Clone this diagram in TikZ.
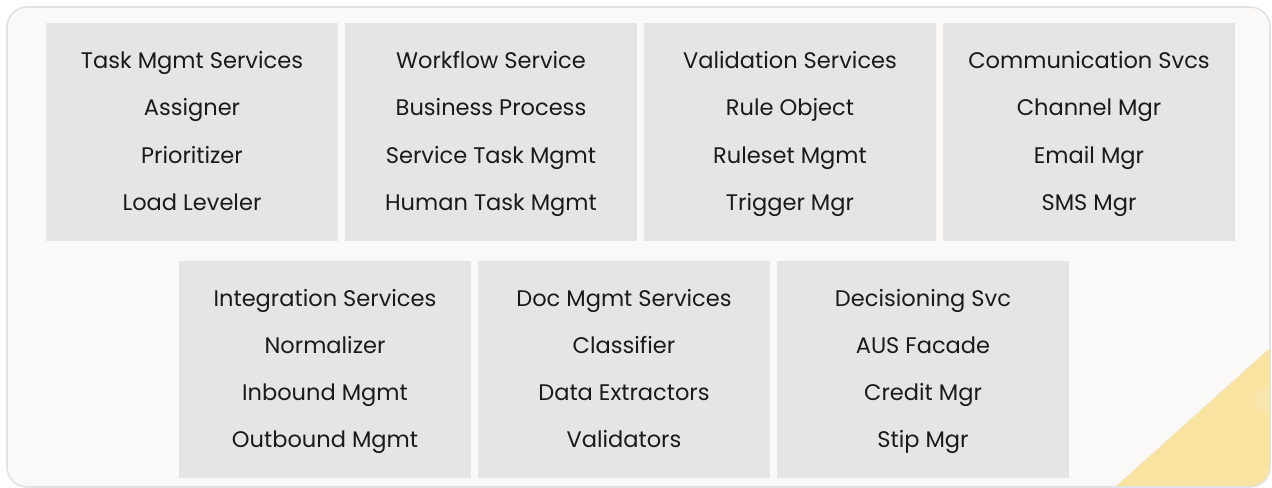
\documentclass[tikz,border=0pt]{standalone}
\usepackage{fontspec}
\setmainfont{Poppins}
\definecolor{panelfill}{HTML}{FAF9F7}
\definecolor{panelline}{HTML}{DFE3E6}
\definecolor{boxfill}{HTML}{E5E5E5}
\definecolor{txt}{HTML}{1A1A1A}
\definecolor{tri}{HTML}{F8E3A0}
\definecolor{trilight}{HTML}{FAE9B4}
\begin{document}
\begin{tikzpicture}[x=0.75pt,y=-0.75pt,
  svcbox/.style={fill=boxfill, draw=none, minimum width=219pt, minimum height=163pt,
    inner sep=0pt, align=center, text=txt, text height=117.75pt, text depth=0pt,
    font=\fontsize{16.9}{35.5}\selectfont}]
\useasboundingbox (0,0) rectangle (1272,488);
\fill[white] (0,0) rectangle (1272,488);
\begin{scope}
\path[clip, rounded corners=15pt] (7,7) rectangle (1270,487);
\fill[panelfill] (0,0) rectangle (1272,488);
\fill[tri] (1114,488) -- (1272,346) -- (1272,488) -- cycle;
\fill[trilight, opacity=0.6] (1265,385) -- (1280,400) -- (1265,415) -- (1250,400) -- cycle;
\end{scope}
\draw[panelline, line width=1.2pt, rounded corners=15pt] (7,7) rectangle (1270,487);

\node[svcbox] (task) at (192,132) {Task Mgmt Services\\Assigner\\Prioritizer\\Load Leveler};
\node[svcbox] (wf) at (491,132) {Workflow Service\\Business Process\\Service Task Mgmt\\Human Task Mgmt};
\node[svcbox] (val) at (790,132) {Validation Services\\Rule Object\\Ruleset Mgmt\\Trigger Mgr};
\node[svcbox] (comm) at (1089,132) {Communication Svcs\\Channel Mgr\\Email Mgr\\SMS Mgr};
\node[svcbox] (integ) at (325,369.5) {Integration Services\\Normalizer\\Inbound Mgmt\\Outbound Mgmt};
\node[svcbox] (doc) at (624,369.5) {Doc Mgmt Services\\Classifier\\Data Extractors\\Validators};
\node[svcbox] (dec) at (923,369.5) {Decisioning Svc\\AUS Facade\\Credit Mgr\\Stip Mgr};
\end{tikzpicture}
\end{document}
